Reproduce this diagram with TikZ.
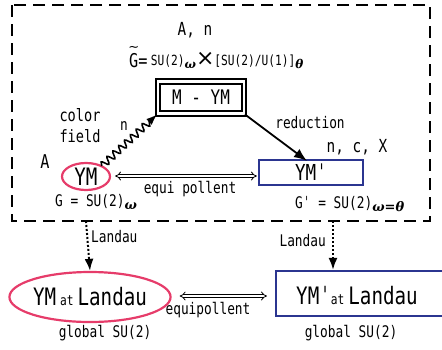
\documentclass[tikz,border=0pt]{standalone}
\usepackage{fontspec}
\setmainfont[FakeStretch=0.8]{DejaVu Sans Mono}
\newfontfamily\grk{DejaVu Serif}
\newfontfamily\symf{DejaVu Sans}
\usetikzlibrary{arrows.meta,decorations.pathmorphing,shapes.geometric}
\definecolor{ymred}{HTML}{E63C6A}
\definecolor{ymblue}{HTML}{2B3590}
\newcommand{\fsz}[1]{\fontsize{#1}{#1}\selectfont}
\newcommand{\gsub}[2]{\raisebox{-3pt}{\fsz{#1}\grk\bfseries\itshape #2}}
\begin{document}
\begin{tikzpicture}[x=1pt,y=-1pt,
  txt/.style={inner sep=0pt},
  lab/.style={inner sep=0pt,font=\fsz{16}},
  midf/.style={inner sep=0pt,font=\fsz{18}},
  bigf/.style={font=\fsz{24}},
  frame/.style={draw,line width=2.2pt,dash pattern=on 12pt off 7pt},
  solidarr/.style={line width=1.8pt,-{Latex[length=13pt,width=10pt]}},
  equiarr/.style={double,double distance=2.2pt,line width=0.8pt,{Implies}-{Implies}},
  dotarr/.style={line width=2pt,dotted,-{Latex[length=12pt,width=9pt]}},
  redell/.style={draw=ymred,line width=2.2pt,ellipse,inner sep=0pt},
  bluebox/.style={draw=ymblue,line width=2.2pt,rectangle,inner sep=0pt}]
\useasboundingbox (0,0) rectangle (442,349);
% dashed frame
\draw[frame] (12,5) rectangle (430,221);
\coordinate (dl) at (86,221);
\coordinate (dr) at (333,221);
% top texts
\node[midf] (an) at (195,30) {A, n};
\node[txt,anchor=west,font=\fsz{19}] (gG) at (129,61) {G=};
\node[txt,font=\symf\fsz{13}] (gtil) at ([xshift=-4.5pt,yshift=4.5pt]gG.north) {\char"7E};
\node[txt,anchor=west] (gt) at ([xshift=3pt]gG.east) {{\fsz{14}SU(2)}\gsub{12}{ω}{\symf\fsz{22}×}{\fsz{14}[SU(2)/U(1)]}\gsub{12}{θ}};
% M-YM box
\node[draw,double,double distance=2.6pt,line width=1.8pt,minimum width=86pt,minimum height=32pt,inner sep=0pt,font=\fsz{20}] (mym) at (201,97.5) {M - YM};
% labels
\node[lab,font=\fsz{17},align=center] (cf) at (80,126) {color\\[4pt]field};
\node[lab] (nl) at (124,126) {n};
\node[lab] (red) at (310,123) {reduction};
\node[midf] (ncx) at (357,147) {n, c, X};
\node[midf,font=\fsz{19}] (A) at (45,162) {A};
% YM and YM'
\node[redell,minimum width=48pt,minimum height=27pt,bigf] (ym) at (86,176.5) {YM};
\node[bluebox,minimum width=104pt,minimum height=25pt,font=\fsz{22}] (ymp) at (311,172.5) {YMˈ};
% arrows in frame
\draw[solidarr] (mym.south east) -- ([xshift=-4pt,yshift=-2pt]ymp.north);
\draw[line width=1.6pt,decorate,decoration={snake,amplitude=3.5pt,segment length=8pt,post length=7pt},-{Latex[length=11pt,width=8pt]}] ([xshift=-2pt]ym.north east) -- (mym.south west);
\draw[equiarr] ([xshift=4pt]ym.east |- 0,176) -- ([xshift=-1pt]ymp.west |- 0,176);
\node[lab] (eq1) at (190,189) {equi pollent};
\node[lab,anchor=west] (g) at (55,202) {G = SU(2)\gsub{13}{ω}};
\node[lab,anchor=west] (gp) at (295,204) {Gˈ = SU(2)\gsub{13}{ω=θ}};
% bottom nodes
\node[redell,minimum width=134pt,minimum height=50pt,bigf] (yml) at (90,297) {YM\,{\fsz{14}at}\,Landau};
\node[bluebox,minimum width=180pt,minimum height=45pt,bigf,anchor=west] (ympl) at (275,293.5) {};
\node[txt,bigf] (ympltxt) at (357,296) {YMˈ{\fsz{14}at}\,Landau};
% dotted arrows
\draw[dotarr] (dl) -- (yml.north);
\draw[dotarr] (dr) -- (ympl.north west -| dr);
\node[lab,anchor=west] (la1) at (91,237) {Landau};
\node[lab,anchor=east] (la2) at (326,241) {Landau};
% bottom equipollent
\draw[equiarr] ([xshift=8pt]yml.east |- 0,296) -- ([xshift=-8pt]ympl.west |- 0,296);
\node[lab] (eq2) at (208,310) {equipollent};
\node[lab] (gl1) at (105,333) {global SU(2)};
\node[lab] (gl2) at (351,333) {global SU(2)};
\end{tikzpicture}
\end{document}
